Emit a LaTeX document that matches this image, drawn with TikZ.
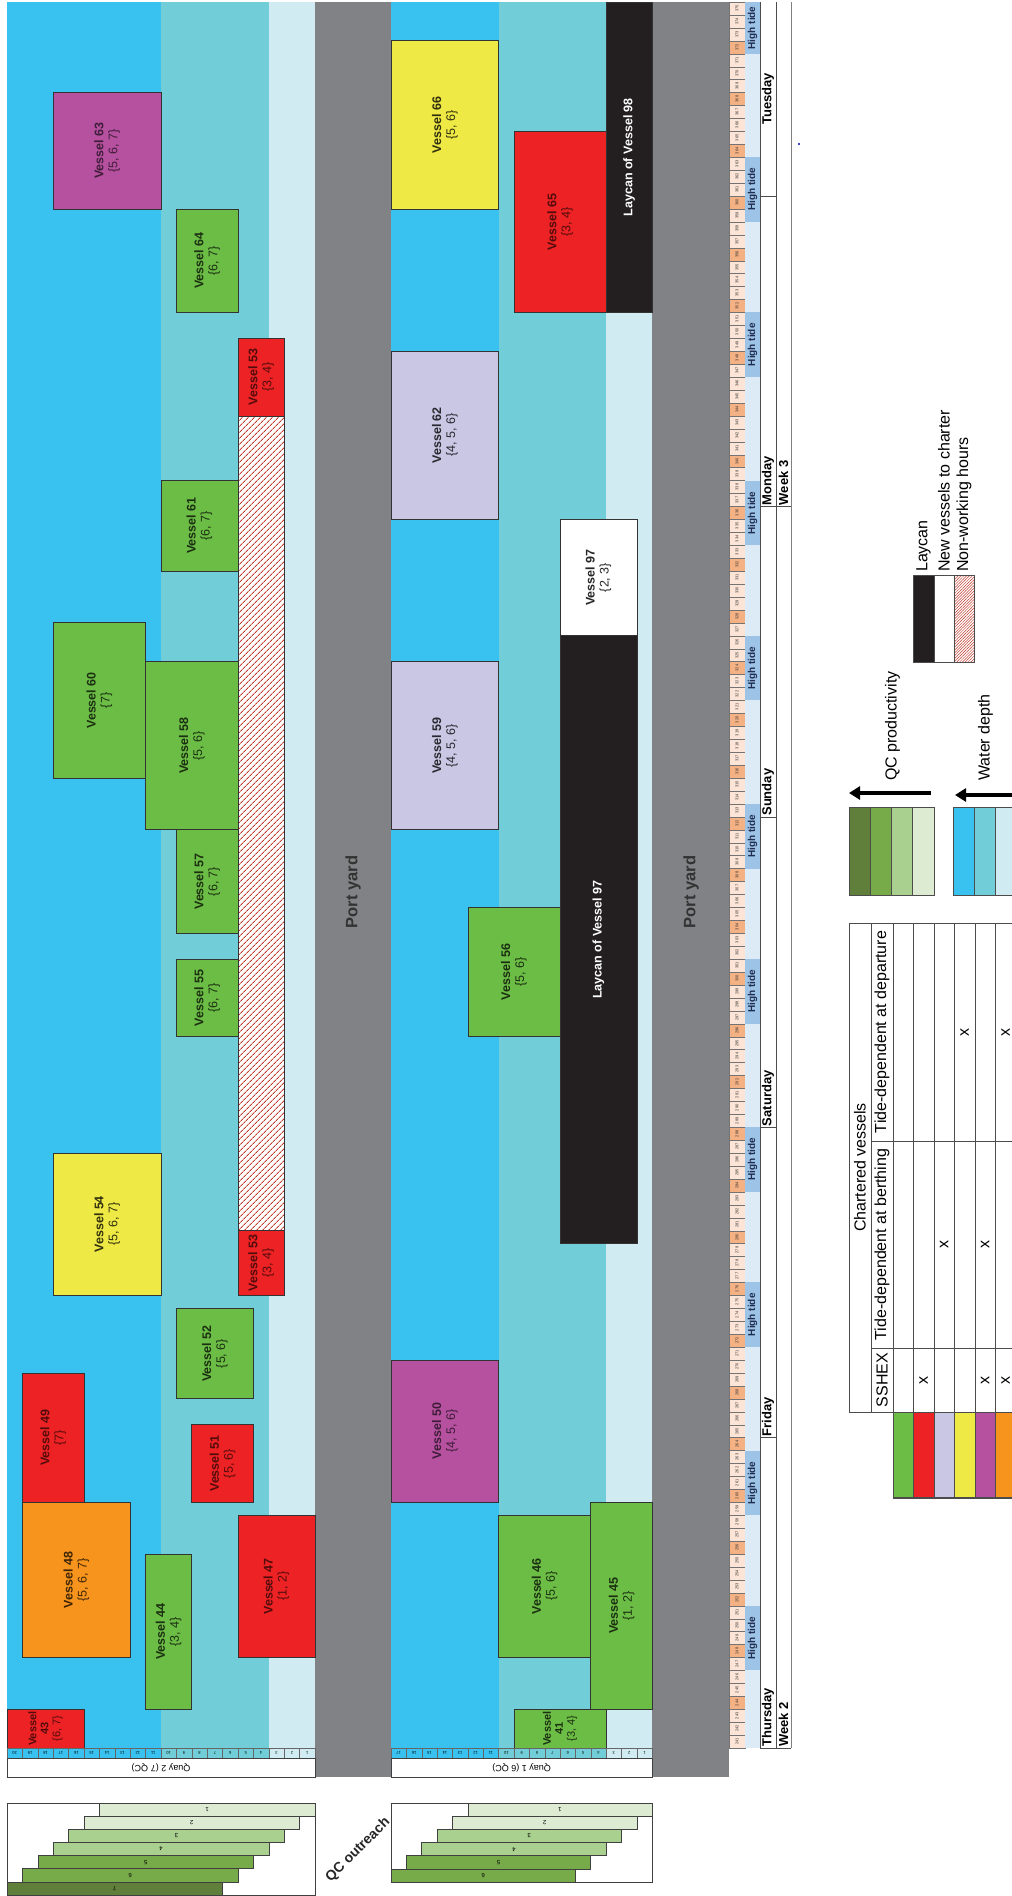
\documentclass[tikz,border=0pt]{standalone}
\usepackage{fontspec}
\setmainfont{Liberation Sans}
\usetikzlibrary{patterns,patterns.meta,arrows.meta}
\definecolor{wdA}{HTML}{39C2F0}
\definecolor{wdB}{HTML}{71CDD7}
\definecolor{wdC}{HTML}{D0EBF2}
\definecolor{portgray}{HTML}{808285}
\definecolor{vgreen}{HTML}{6CBD45}
\definecolor{vred}{HTML}{ED2224}
\definecolor{vorange}{HTML}{F7941D}
\definecolor{vyellow}{HTML}{EEE944}
\definecolor{vpurple}{HTML}{B5519F}
\definecolor{vlav}{HTML}{CAC7E5}
\definecolor{laycan}{HTML}{231F20}
\definecolor{cellpeach}{HTML}{FCE4D6}
\definecolor{cellorange}{HTML}{F4B183}
\definecolor{tideband}{HTML}{DDEBF7}
\definecolor{tideblock}{HTML}{9DC3E6}
\definecolor{tidetext}{HTML}{1F2D50}
\definecolor{qcA}{HTML}{5F7F3A}
\definecolor{qcB}{HTML}{77AB4A}
\definecolor{qcC}{HTML}{A9D08E}
\definecolor{qcD}{HTML}{DDEBD3}
\definecolor{hatchred}{HTML}{C0392B}
\newcommand\mkvessel[7]{%
  \pgfmathsetmacro\vcx{(#2+#3)/2}%
  \pgfmathsetmacro\vcy{1748-12.9333*(#4+#5)/2}%
  \pgfmathsetmacro\vw{#3-#2}%
  \pgfmathsetmacro\vh{12.9333*(#5-#4)}%
  \node[vessel, #6, minimum width=\vh pt, minimum height=\vw pt] (#1) at (\vcx,\vcy) {#7};}
\tikzset{
  vessel/.style={draw=black!80, line width=0.7pt, rotate=90, inner sep=0pt, align=center,
    font=\fontsize{12.5}{14}\selectfont\bfseries},
  gv/.style={fill=vgreen, text=vgreen!25!black},
  rv/.style={fill=vred, text=vred!35!black},
  ov/.style={fill=vorange, text=vorange!25!black},
  yv/.style={fill=vyellow, text=vyellow!20!black},
  pv/.style={fill=vpurple, text=vpurple!35!black},
  lv/.style={fill=vlav, text=vlav!20!black},
  wv/.style={fill=white, text=black!85},
  lc/.style={fill=laycan, text=white},
  tiny3/.style={font=\fontsize{11}{12}\selectfont\bfseries},
  hourcell/.style={draw=black!55, line width=0.3pt, rotate=90, inner sep=0pt,
    font=\fontsize{4}{4.5}\selectfont, text=black!80},
  tidebox/.style={fill=tideblock, rotate=90, inner sep=0pt,
    font=\fontsize{10}{11}\selectfont\bfseries, text=tidetext},
  daylab/.style={rotate=90, anchor=west, inner sep=1pt, font=\fontsize{13}{14}\selectfont\bfseries},
  qcell/.style={draw=black!60, line width=0.3pt, rotate=180, inner sep=0pt,
    minimum width=15.4pt, minimum height=10pt, font=\fontsize{4}{4.5}\selectfont},
  qbar/.style={draw=black!75, line width=0.6pt, rotate=180, inner sep=0pt,
    font=\fontsize{6}{7}\selectfont},
  portlab/.style={rotate=90, font=\fontsize{16.5}{18}\selectfont\bfseries, text=black!80},
  legtext/.style={rotate=90, anchor=west, inner sep=0pt, font=\fontsize{16}{18}\selectfont},
  tabtext/.style={rotate=90, inner sep=0pt, font=\fontsize{16}{18}\selectfont},
  tabline/.style={draw=black!70, line width=0.7pt},
  swatch/.style={draw=black!70, line width=0.7pt}
}
\begin{document}
\begin{tikzpicture}[x=1pt,y=-1pt]
\useasboundingbox (0,0) rectangle (1012,1896);
\fill[white] (0,0) rectangle (1012,1896);
\begin{scope}
\clip (0,0) rectangle (1012,1896);
% ---------- water depth zones and port yards
\fill[wdA] (7,2) rectangle (161,1748);
\fill[wdB] (161,2) rectangle (268.8,1748);
\fill[wdC] (268.8,2) rectangle (315,1748);
\fill[portgray] (315,2) rectangle (391,1777);
\fill[wdA] (391,2) rectangle (498.6,1748);
\fill[wdB] (498.6,2) rectangle (606.2,1748);
\fill[wdC] (606.2,2) rectangle (652.3,1748);
\fill[portgray] (652.3,2) rectangle (729,1777);
\node[portlab] (py2) at (353,892) {Port yard};
\node[portlab] (py1) at (691,892) {Port yard};
% ---------- quay 2 vessels
\mkvessel{v43}{7}{84}{0}{3}{rv,tiny3}{Vessel\\43\\{\mdseries\{6, 7\}}}
\mkvessel{v44}{145.6}{191.8}{3}{15}{gv}{Vessel 44\\{\mdseries\{3, 4\}}}
\mkvessel{v47}{238}{315}{7}{18}{rv}{Vessel 47\\{\mdseries\{1, 2\}}}
\mkvessel{v48}{22.4}{130.2}{7}{19}{ov}{Vessel 48\\{\mdseries\{5, 6, 7\}}}
\mkvessel{v49}{22.4}{84}{19}{29}{rv}{Vessel 49\\{\mdseries\{7\}}}
\mkvessel{v51}{191.8}{253.4}{19}{25}{rv}{Vessel 51\\{\mdseries\{5, 6\}}}
\mkvessel{v52}{176.4}{253.4}{27}{34}{gv}{Vessel 52\\{\mdseries\{5, 6\}}}
\mkvessel{v53b}{238}{284.2}{35}{40}{rv}{Vessel 53\\{\mdseries\{3, 4\}}}
\fill[white] (238,{1748-12.9333*40}) rectangle (284.2,{1748-12.9333*103});
\fill[pattern={Lines[angle=45,distance=4pt,line width=1pt]}, pattern color=hatchred]
  (238,{1748-12.9333*40}) rectangle (284.2,{1748-12.9333*103});
\draw[black!80, line width=0.7pt] (238,{1748-12.9333*40}) rectangle (284.2,{1748-12.9333*103});
\mkvessel{v53a}{238}{284.2}{103}{109}{rv}{Vessel 53\\{\mdseries\{3, 4\}}}
\mkvessel{v54}{53.2}{161}{35}{46}{yv}{Vessel 54\\{\mdseries\{5, 6, 7\}}}
\mkvessel{v55}{176.4}{238}{55}{61}{gv}{Vessel 55\\{\mdseries\{6, 7\}}}
\mkvessel{v57}{176.4}{238}{63}{71}{gv}{Vessel 57\\{\mdseries\{6, 7\}}}
\mkvessel{v58}{145.6}{238}{71}{84}{gv}{Vessel 58\\{\mdseries\{5, 6\}}}
\mkvessel{v60}{53.2}{145.6}{75}{87}{gv}{Vessel 60\\{\mdseries\{7\}}}
\mkvessel{v61}{161}{238}{91}{98}{gv}{Vessel 61\\{\mdseries\{6, 7\}}}
\mkvessel{v64}{176.4}{238}{111}{119}{gv}{Vessel 64\\{\mdseries\{6, 7\}}}
\mkvessel{v63}{53.2}{161}{119}{128}{pv}{Vessel 63\\{\mdseries\{5, 6, 7\}}}
% ---------- quay 1 vessels
\mkvessel{v41}{514}{606.2}{0}{3}{gv,tiny3}{Vessel\\41\\{\mdseries\{3, 4\}}}
\mkvessel{v45}{590.8}{652.3}{3}{19}{gv}{Vessel 45\\{\mdseries\{1, 2\}}}
\mkvessel{v46}{498.6}{590.8}{7}{18}{gv}{Vessel 46\\{\mdseries\{5, 6\}}}
\mkvessel{v50}{391}{498.6}{19}{30}{pv}{Vessel 50\\{\mdseries\{4, 5, 6\}}}
\mkvessel{l97}{560.1}{636.9}{39}{86}{lc}{Laycan of Vessel 97}
\mkvessel{v56}{467.9}{560.1}{55}{65}{gv}{Vessel 56\\{\mdseries\{5, 6\}}}
\mkvessel{v59}{391}{498.6}{71}{84}{lv}{Vessel 59\\{\mdseries\{4, 5, 6\}}}
\mkvessel{v97}{560.1}{636.9}{86}{95}{wv}{Vessel 97\\{\mdseries\{2, 3\}}}
\mkvessel{v62}{391}{498.6}{95}{108}{lv}{Vessel 62\\{\mdseries\{4, 5, 6\}}}
\mkvessel{v65}{514}{606.2}{111}{125}{rv}{Vessel 65\\{\mdseries\{3, 4\}}}
\mkvessel{l98}{606.2}{652.3}{111}{135}{lc}{Laycan of Vessel 98}
\mkvessel{v66}{391}{498.6}{119}{132}{yv}{Vessel 66\\{\mdseries\{5, 6\}}}
% ---------- time axis: hour cells
\foreach \i in {0,...,134}{
  \pgfmathtruncatemacro\hr{241+\i}
  \pgfmathsetmacro\yc{1748-12.9333*(\i+0.5)}
  \pgfmathtruncatemacro\mm{mod(\i,4)}
  \ifnum\mm=3 \def\cc{cellorange}\else\def\cc{cellpeach}\fi
  \node[hourcell, fill=\cc, minimum width=12.9333pt, minimum height=16pt] (hc\i) at (737,\yc) {\hr};
}
% tide band
\fill[tideband] (745,2) rectangle (760,1748);
\foreach \s [count=\n] in {6,18,31,43,56,68,81,93,106,118}{
  \pgfmathsetmacro\yc{1748-12.9333*(\s+2.5)}
  \node[tidebox, minimum width=64.67pt, minimum height=15pt] (tide\n) at (752.5,\yc) {High tide};
}
\node[tidebox, minimum width=51.73pt, minimum height=15pt] (tide11) at (752.5,{1748-12.9333*133}) {High tide};
% day and week rows
\draw[black!70, line width=0.6pt] (760,1748) -- (760,2) (776,1748) -- (776,2);
\draw[black!50, line width=0.6pt] (791,1748) -- (791,2);
\draw[black!70, line width=0.6pt] (760,1748) -- (791,1748);
\foreach \d in {24,48,72,120}{
  \draw[black!70, line width=0.6pt] (760,{1748-12.9333*\d}) -- (776,{1748-12.9333*\d});
}
\draw[black!70, line width=0.6pt] (760,{1748-12.9333*96}) -- (791,{1748-12.9333*96});
\node[daylab] (dThu) at (768,1748) {Thursday};
\node[daylab] (dFri) at (768,{1748-12.9333*24}) {Friday};
\node[daylab] (dSat) at (768,{1748-12.9333*48}) {Saturday};
\node[daylab] (dSun) at (768,{1748-12.9333*72}) {Sunday};
\node[daylab] (dMon) at (768,{1748-12.9333*96}) {Monday};
\node[daylab, anchor=center] (dTue) at (768,{1748-12.9333*127.5}) {Tuesday};
\node[daylab] (w2) at (783.5,1748) {Week 2};
\node[daylab] (w3) at (783.5,{1748-12.9333*96}) {Week 3};
% ---------- quay cells and labels
\foreach \k in {0,...,19}{
  \pgfmathtruncatemacro\nn{20-\k}
  \ifnum\k<10 \def\cc{wdA}\else\ifnum\k<17 \def\cc{wdB}\else\def\cc{wdC}\fi\fi
  \node[qcell, fill=\cc] (qa\k) at ({7+15.4*(\k+0.5)},1753) {\nn};
}
\foreach \k in {0,...,16}{
  \pgfmathtruncatemacro\nn{17-\k}
  \ifnum\k<7 \def\cc{wdA}\else\ifnum\k<14 \def\cc{wdB}\else\def\cc{wdC}\fi\fi
  \node[qcell, fill=\cc, minimum width=15.37pt] (qb\k) at ({391+15.37*(\k+0.5)},1753) {\nn};
}
\node[draw=black!75, line width=0.7pt, fill=white, rotate=180, minimum width=308pt, minimum height=19pt,
  inner sep=0pt, font=\fontsize{9}{10}\selectfont] (q2lab) at (161,1767.5) {Quay 2 (7 QC)};
\node[draw=black!75, line width=0.7pt, fill=white, rotate=180, minimum width=261.3pt, minimum height=19pt,
  inner sep=0pt, font=\fontsize{9}{10}\selectfont] (q1lab) at (521.65,1767.5) {Quay 1 (6 QC)};
% ---------- QC outreach
\draw[black!75, line width=0.7pt, fill=white] (7,1803) rectangle (315,1895);
\foreach \j/\c in {1/qcD,2/qcD,3/qcC,4/qcC,5/qcB,6/qcB,7/qcA}{
  \pgfmathsetmacro\xc{7+15.4*(7-\j)+107.8}
  \pgfmathsetmacro\yc{1803+13.143*(\j-0.5)}
  \node[qbar, fill=\c, minimum width=215.6pt, minimum height=13.143pt] (ob\j) at (\xc,\yc) {\j};
}
\draw[black!75, line width=0.7pt, fill=white] (391,1803) rectangle (652.3,1882);
\foreach \j/\c in {1/qcD,2/qcD,3/qcC,4/qcC,5/qcB,6/qcB}{
  \pgfmathsetmacro\xc{391+15.37*(6-\j)+92.2}
  \pgfmathsetmacro\yc{1803+13.17*(\j-0.5)}
  \node[qbar, fill=\c, minimum width=184.4pt, minimum height=13.17pt] (oa\j) at (\xc,\yc) {\j};
}
\node[rotate=45, font=\fontsize{14}{16}\selectfont\bfseries, text=black!85] (qcout) at (358,1850) {QC outreach};
% ---------- legend: QC productivity and water depth
\foreach \c [count=\n] in {qcA,qcB,qcC,qcD}{
  \draw[swatch, fill=\c] ({849+21.25*(\n-1)},807) rectangle ({849+21.25*\n},895);
}
\coordinate (qpa) at (931,793);
\coordinate (qpb) at (849,793);
\draw[line width=3.5pt, -{Triangle[length=11pt,width=13pt]}] (qpa) -- (qpb);
\node[legtext] (lqc) at (892.5,781) {QC productivity};
\foreach \c [count=\n] in {wdA,wdB,wdC}{
  \draw[swatch, fill=\c] ({953+21*(\n-1)},807) rectangle ({953+21*\n},895);
}
\coordinate (wpa) at (1020,795);
\coordinate (wpb) at (955,795);
\draw[line width=3.5pt, -{Triangle[length=11pt,width=13pt]}] (wpa) -- (wpb);
\node[legtext] (lwd) at (985.5,781) {Water depth};
% laycan legend
\draw[swatch, fill=laycan] (913,575) rectangle (934,662);
\draw[swatch, fill=white] (934,575) rectangle (954,662);
\fill[white] (954,575) rectangle (974,662);
\fill[pattern={Lines[angle=45,distance=2pt,line width=0.5pt]}, pattern color=hatchred] (954,575) rectangle (974,662);
\draw[swatch] (954,575) rectangle (974,662);
\node[legtext] (llay) at (923.5,572) {Laycan};
\node[legtext] (lnew) at (944,572) {New vessels to charter};
\node[legtext] (lnon) at (964,572) {Non-working hours};
% ---------- chartered vessels table
\foreach \c [count=\n] in {vgreen,vred,vlav,vyellow,vpurple,vorange}{
  \fill[\c] ({893+20.5*(\n-1)},1412) rectangle ({893+20.5*\n},1498);
}
\draw[tabline] (849,923) rectangle (871,1412);
\draw[tabline] (871,923) -- (1016,923);
\draw[tabline] (871,1141) -- (1016,1141);
\draw[tabline] (871,1348) -- (1016,1348);
\draw[tabline] (871,1412) -- (1016,1412);
\draw[tabline, line width=1.2pt] (893,1498) -- (1016,1498);
\draw[tabline] (893,923) -- (893,1498);
\foreach \n in {1,...,5}{
  \draw[tabline] ({893+20.5*\n},923) -- ({893+20.5*\n},1498);
}
\node[tabtext] (tch) at (860,1167.5) {Chartered vessels};
\node[tabtext] (tdep) at (882,1032) {Tide-dependent at departure};
\node[tabtext] (tber) at (882,1244.5) {Tide-dependent at berthing};
\node[tabtext] (tssh) at (882,1380) {SSHEX};
\node[tabtext] (x1) at (923.75,1380) {x};
\node[tabtext] (x2) at (985.25,1380) {x};
\node[tabtext] (x3) at (1005.75,1380) {x};
\node[tabtext] (x4) at (944.25,1244.5) {x};
\node[tabtext] (x5) at (985.25,1244.5) {x};
\node[tabtext] (x6) at (964.75,1032) {x};
\node[tabtext] (x7) at (1005.75,1032) {x};
\fill[blue!70!black] (799,144) circle (1.2);
\end{scope}
\end{tikzpicture}
\end{document}
